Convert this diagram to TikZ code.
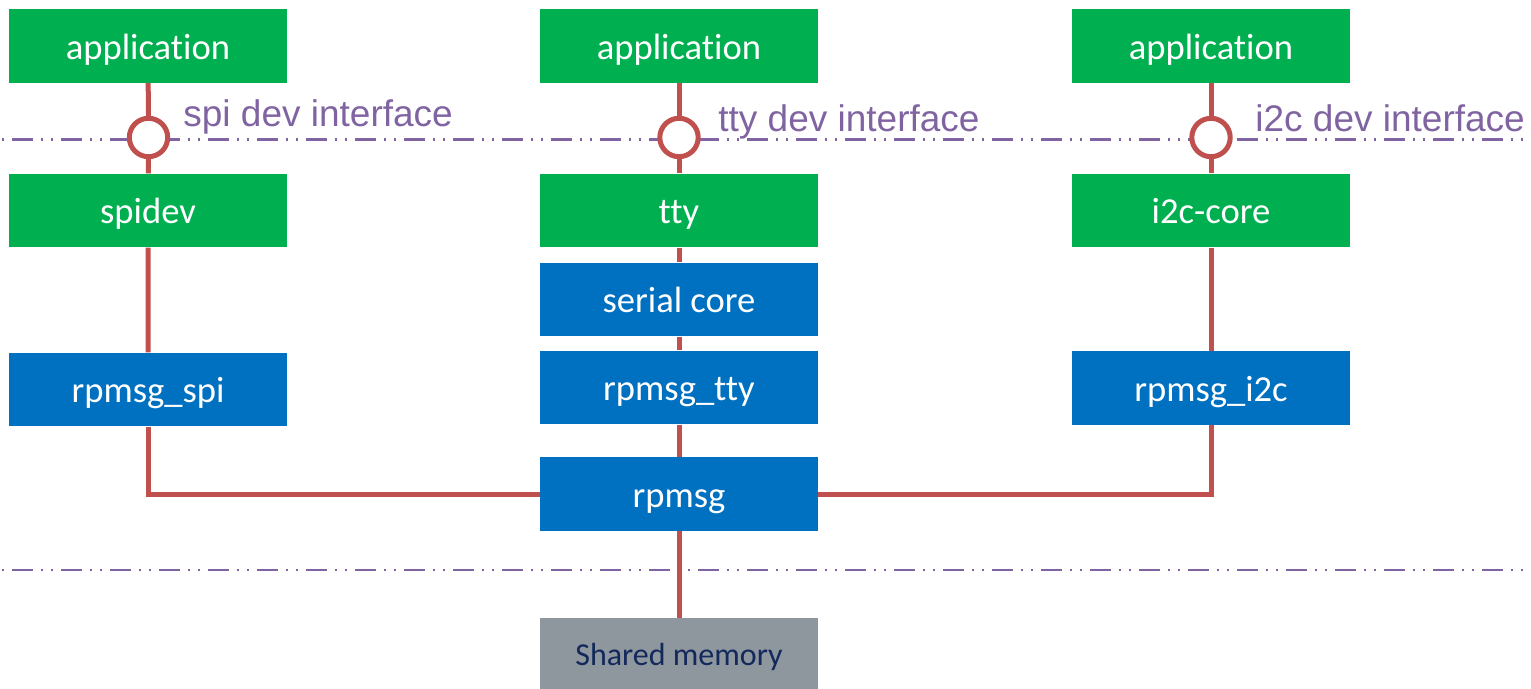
\documentclass[tikz,border=0pt]{standalone}
\usepackage{fontspec}
\setmainfont{Carlito}[RawFeature={-liga;-clig;-calt;-dlig}]
\newfontfamily\ifacefont{Liberation Sans}
\usetikzlibrary{backgrounds}

\definecolor{boxgreen}{HTML}{00B050}
\definecolor{boxblue}{HTML}{0070C0}
\definecolor{boxgray}{HTML}{8E969E}
\definecolor{memtext}{HTML}{13295B}
\definecolor{wirered}{HTML}{C0504D}
\definecolor{seppurple}{HTML}{8064A2}

\begin{document}
\begin{tikzpicture}[x=0.5pt,y=-0.5pt,
  blk/.style={minimum width=139pt, minimum height=36.75pt, inner sep=0pt,
    text=white, font=\fontsize{18.3}{22}\selectfont,
    text height=13.3pt, text depth=0pt},
  greenblk/.style={blk, fill=boxgreen},
  blueblk/.style={blk, fill=boxblue},
  memblk/.style={minimum width=139pt, minimum height=35.5pt, inner sep=0pt,
    fill=boxgray, text=memtext, font=\fontsize{16}{19}\selectfont,
    text height=11.5pt, text depth=0pt},
  wire/.style={draw=wirered, line width=2.5pt},
  sepline/.style={draw=seppurple, line width=1.3pt,
    dash pattern=on 10.3pt off 3.85pt on 1pt off 4.25pt on 1pt off 4.1pt,
    dash phase=18.4pt},
  iface/.style={circle, draw=wirered, line width=2.5pt, fill=white,
    minimum size=19.2pt, inner sep=0pt},
  ifacelabel/.style={anchor=base west, inner sep=0pt, text=seppurple,
    font=\ifacefont\fontsize{18.5}{22}\selectfont}]

\useasboundingbox (0,0) rectangle (1531,689);

% left column: spi
\node[greenblk] (app1) at (148,46) {application};
\node[greenblk] (spidev) at (148,210.5) {spidev};
\node[blueblk] (rpspi) at (148,389.5) {rpmsg\_spi};

% middle column: tty
\node[greenblk] (app2) at (679,46) {application};
\node[greenblk] (tty) at (679,210.5) {tty};
\node[blueblk] (serial) at (679,299.5) {serial core};
\node[blueblk] (rptty) at (679,387.5) {rpmsg\_tty};
\node[blueblk] (rpmsg) at (679,494) {rpmsg};
\node[memblk] (shm) at (679,653.5) {Shared memory};

% right column: i2c
\node[greenblk] (app3) at (1211,46) {application};
\node[greenblk] (i2ccore) at (1211,210.5) {i2c-core};
\node[blueblk] (rpi2c) at (1211,388) {rpmsg\_i2c};

% user-space interfaces
\node[iface] (if1) at (148.5,137.5) {};
\node[iface] (if2) at (679,137.5) {};
\node[iface] (if3) at (1211,137.5) {};
\node[ifacelabel] (lab1) at (183,127) {spi dev interface};
\node[ifacelabel] (lab2) at (718,131.5) {tty dev interface};
\node[ifacelabel] (lab3) at (1255,131.5) {i2c dev interface};

% separator line ends
\coordinate (ul) at (0,139.5);
\coordinate (ur) at (1531,139.5);
\coordinate (ll) at (0,570);
\coordinate (lr) at (1531,570);

\begin{scope}[on background layer]
  \draw[sepline] (ul) -- (ur);
  \draw[sepline] (ll) -- (lr);

  \draw[wire] (app1) -- (if1) -- (spidev) -- (rpspi);
  \draw[wire] (rpspi.south) |- (rpmsg.west);

  \draw[wire] (app2) -- (if2) -- (tty) -- (serial) -- (rptty) -- (rpmsg) -- (shm);

  \draw[wire] (app3) -- (if3) -- (i2ccore) -- (rpi2c);
  \draw[wire] (rpi2c.south) |- (rpmsg.east);
\end{scope}
\end{tikzpicture}
\end{document}
